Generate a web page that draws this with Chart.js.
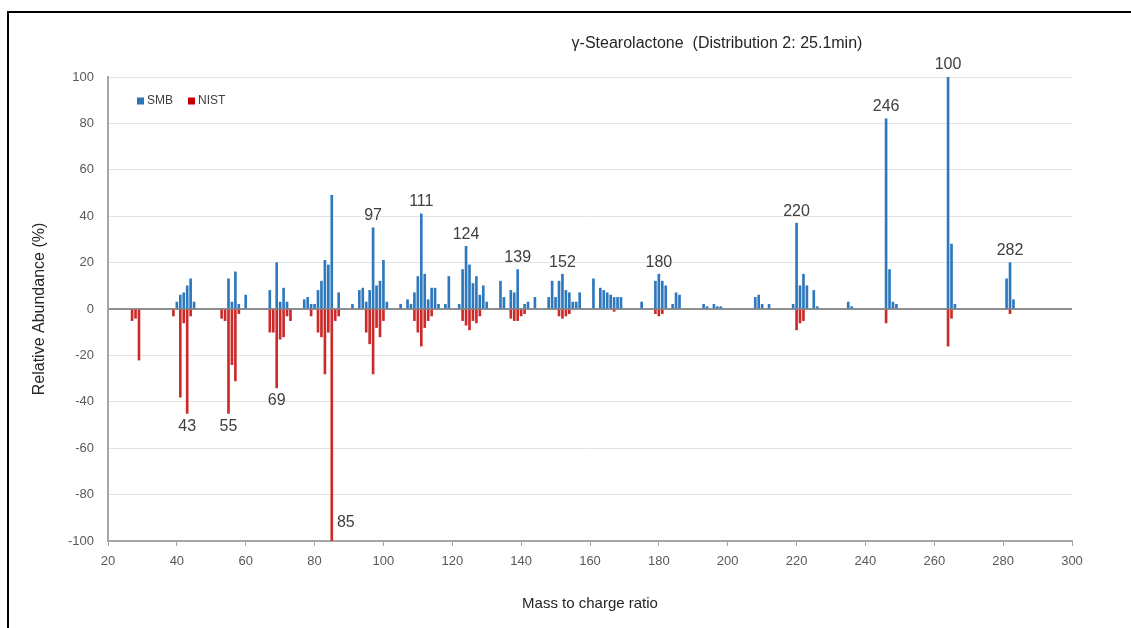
<!DOCTYPE html>
<html>
<head>
<meta charset="utf-8">
<script src="https://cdn.jsdelivr.net/npm/chart.js@4.4.1/dist/chart.umd.min.js"></script>
<style>
  body { margin: 0; background: #fff; }
  #wrap { position: relative; width: 1131px; height: 628px; overflow: hidden; }
  #frame { position: absolute; left: 7px; top: 11px; right: -4px; bottom: -4px; border-top: 2px solid #000; border-left: 2px solid #000; }
  canvas { position: absolute; left: 0; top: 0; }
</style>
</head>
<body>
<div id="wrap">
  <div id="frame"></div>
  <canvas id="chart" width="1131" height="628"></canvas>
</div>
<script>
// SMB spectrum (m/z, relative abundance %)
const smbMz = [40, 41, 42, 43, 44, 45, 55, 56, 57, 58, 60, 67, 69, 70, 71, 72, 77, 78, 79, 80,
  81, 82, 83, 84, 85, 87, 91, 93, 94, 95, 96, 97, 98, 99, 100, 101, 105, 107, 108, 109,
  110, 111, 112, 113, 114, 115, 116, 118, 119, 122, 123, 124, 125, 126, 127, 128, 129, 130, 134, 135,
  137, 138, 139, 141, 142, 144, 148, 149, 150, 151, 152, 153, 154, 155, 156, 157, 161, 163, 164, 165,
  166, 167, 168, 169, 175, 179, 180, 181, 182, 184, 185, 186, 193, 194, 196, 197, 198, 208, 209, 210,
  212, 219, 220, 221, 222, 223, 225, 226, 235, 236, 246, 247, 248, 249, 264, 265, 266, 281, 282, 283];
const smbVal = [3, 6, 7, 10, 13, 3, 13, 3, 16, 2, 6, 8, 20, 3, 9, 3, 4, 5, 2, 2,
  8, 12, 21, 19, 49, 7, 2, 8, 9, 3, 8, 35, 10, 12, 21, 3, 2, 4, 2, 7,
  14, 41, 15, 4, 9, 9, 2, 2, 14, 2, 17, 27, 19, 11, 14, 6, 10, 3, 12, 5,
  8, 7, 17, 2, 3, 5, 5, 12, 5, 12, 15, 8, 7, 3, 3, 7, 13, 9, 8, 7,
  6, 5, 5, 5, 3, 12, 15, 12, 10, 2, 7, 6, 2, 1, 2, 1, 1, 5, 6, 2,
  2, 2, 37, 10, 15, 10, 8, 1, 3, 1, 82, 17, 3, 2, 100, 28, 2, 13, 20, 4];

// NIST library spectrum, drawn downwards
const nistMz = [27, 28, 29, 39, 41, 42, 43, 44, 53, 54, 55, 56, 57, 58, 67, 68, 69, 70, 71, 72,
  73, 79, 81, 82, 83, 84, 85, 86, 87, 95, 96, 97, 98, 99, 100, 109, 110, 111, 112, 113,
  114, 123, 124, 125, 126, 127, 128, 137, 138, 139, 140, 141, 151, 152, 153, 154, 167, 179, 180, 181,
  220, 221, 222, 246, 264, 265, 282];
const nistVal = [-5, -4, -22, -3, -38, -6, -45, -3, -4, -5, -45, -24, -31, -2, -10, -10, -34, -13, -12, -3,
  -5, -3, -10, -12, -28, -10, -100, -5, -3, -10, -15, -28, -8, -12, -5, -5, -10, -16, -8, -5,
  -3, -5, -7, -9, -5, -6, -3, -4, -5, -5, -3, -2, -3, -4, -3, -2, -1, -2, -3, -2,
  -9, -6, -5, -6, -16, -4, -2];

// annotated peaks
const peakMz = [43, 55, 69, 85, 97, 111, 124, 139, 152, 180, 220, 246, 264, 282];
const peakText = ['43', '55', '69', '85', '97', '111', '124', '139', '152', '180', '220', '246', '100', '282'];
const peakSeries = [1, 1, 1, 1, 0, 0, 0, 0, 0, 0, 0, 0, 0, 0];

const FONT = '"Liberation Sans", Arial, sans-serif';
const legendColors = ['#2e75b6', '#c00000'];

const titlePlugin = {
  id: 'topTitle',
  afterDraw(chart) {
    const ctx = chart.ctx;
    ctx.save();
    ctx.font = '16px ' + FONT;
    ctx.fillStyle = '#262626';
    ctx.textAlign = 'center';
    ctx.textBaseline = 'middle';
    ctx.fillText('γ-Stearolactone  (Distribution 2: 25.1min)', 717, 44);
    ctx.restore();
  }
};

// legend drawn inside the plot, top left
const insideLegend = {
  id: 'insideLegend',
  afterDraw(chart) {
    const ctx = chart.ctx;
    const area = chart.chartArea;
    let x = area.left + 29;
    const y = area.top + 24;
    ctx.save();
    ctx.font = '12px ' + FONT;
    ctx.textBaseline = 'middle';
    ctx.textAlign = 'left';
    chart.data.datasets.forEach((ds, i) => {
      ctx.fillStyle = legendColors[i];
      ctx.fillRect(x, y - 3.5, 7, 7);
      x += 10;
      ctx.fillStyle = '#404040';
      ctx.fillText(ds.label, x, y);
      x += ctx.measureText(ds.label).width + 15;
    });
    ctx.restore();
  }
};

const peakLabels = {
  id: 'peakLabels',
  afterDatasetsDraw(chart) {
    const ctx = chart.ctx;
    const xs = chart.scales.x, ys = chart.scales.y;
    ctx.save();
    ctx.font = '16px ' + FONT;
    ctx.fillStyle = '#404040';
    ctx.textAlign = 'center';
    peakMz.forEach((m, i) => {
      const s = peakSeries[i];
      const mzs = s === 0 ? smbMz : nistMz;
      const vals = s === 0 ? smbVal : nistVal;
      const v = vals[mzs.indexOf(m)];
      const px = xs.getPixelForValue(m);
      const py = ys.getPixelForValue(v);
      if (s === 0) {
        ctx.textBaseline = 'bottom';
        ctx.fillText(peakText[i], px, py - 4);
      } else if (v <= -90) {
        ctx.textBaseline = 'middle';
        ctx.fillText(peakText[i], px + 14, py - 18);
      } else {
        ctx.textBaseline = 'top';
        ctx.fillText(peakText[i], px, py + 5);
      }
    });
    ctx.restore();
  }
};

new Chart(document.getElementById('chart'), {
  type: 'bar',
  data: {
    datasets: [{
      label: 'SMB',
      data: smbMz.map((m, i) => ({ x: m, y: smbVal[i] })),
      backgroundColor: '#2e78bd',
      barThickness: 2,
      grouped: false
    }, {
      label: 'NIST',
      data: nistMz.map((m, i) => ({ x: m, y: nistVal[i] })),
      backgroundColor: '#cc2a2a',
      barThickness: 2,
      grouped: false
    }]
  },
  options: {
    responsive: false,
    animation: false,
    layout: { padding: { left: 10, right: 59, top: 77, bottom: 0 } },
    plugins: {
      legend: { display: false },
      tooltip: { enabled: false }
    },
    scales: {
      x: {
        type: 'linear',
        min: 20,
        max: 300,
        offset: false,
        afterFit: s => { s.height = 87; },
        ticks: { stepSize: 20, padding: 8, color: '#595959', font: { family: FONT, size: 13 } },
        grid: { drawOnChartArea: false, drawTicks: true, tickLength: 5, color: '#a6a6a6', offset: false },
        border: { color: '#a6a6a6', width: 2 },
        title: {
          display: true,
          text: 'Mass to charge ratio',
          color: '#262626',
          font: { family: FONT, size: 15 },
          padding: { top: 0, bottom: 15 }
        }
      },
      y: {
        min: -100,
        max: 100,
        afterFit: s => { s.width = 98; },
        ticks: { stepSize: 20, padding: 14, color: '#595959', font: { family: FONT, size: 13 } },
        grid: {
          drawTicks: false,
          color: c => c.tick && c.tick.value === 0 ? '#8f8f8f' : '#e3e3e3',
          lineWidth: c => c.tick && c.tick.value === 0 ? 2 : 1
        },
        border: { color: '#a6a6a6', width: 2 },
        title: {
          display: true,
          text: 'Relative Abundance (%)',
          color: '#262626',
          font: { family: FONT, size: 16 },
          padding: { top: 20, bottom: 0 }
        }
      }
    }
  },
  plugins: [titlePlugin, insideLegend, peakLabels]
});
</script>
</body>
</html>
